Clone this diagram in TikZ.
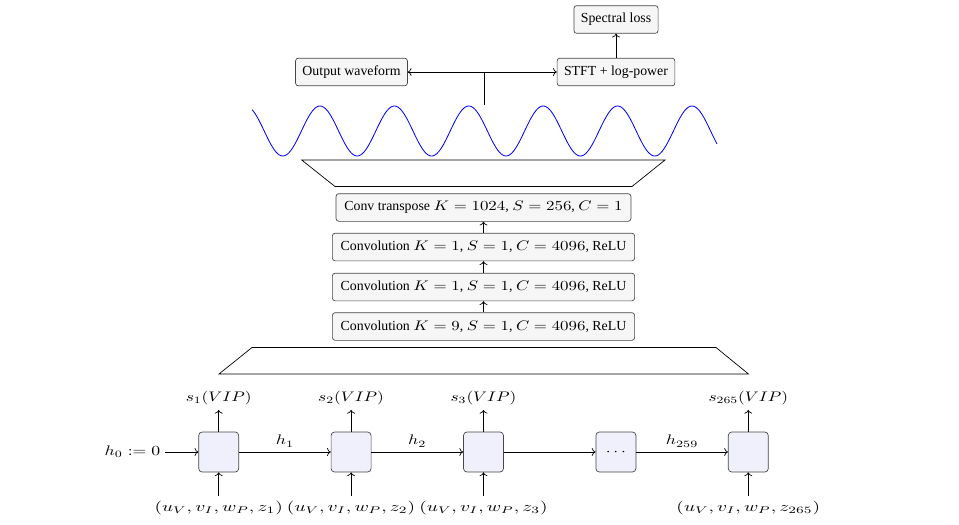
\documentclass[tikz,border=0pt]{standalone}
\usepackage[no-math]{fontspec}
\usepackage{graphicx}
\setmainfont{Liberation Serif}
\usetikzlibrary{arrows.meta}
\definecolor{boxgray}{RGB}{246,246,246}
\definecolor{cellblue}{RGB}{240,240,252}
\definecolor{edgegray}{RGB}{70,70,70}
\newcommand{\wmath}[2][1.22]{\scalebox{#1}[1]{$#2$}}
\tikzset{
  topbox/.style={draw=edgegray, fill=boxgray, rounded corners=2pt, minimum height=20pt, inner xsep=5pt},
  convbox/.style={draw=edgegray, fill=boxgray, rounded corners=2pt, minimum height=20pt, inner xsep=6pt},
  cell/.style={draw=edgegray, fill=cellblue, rounded corners=2.5pt, minimum width=28.9pt, minimum height=28.9pt, inner sep=0pt},
  lbl/.style={inner sep=3.33pt},
  arr/.style={->},
  every path/.style={line width=0.5pt},
}
\begin{document}
\begin{tikzpicture}[x=0.7225pt,y=-0.7225pt]
\useasboundingbox (0,0) rectangle (959,524);
% top
\node[topbox] (spec) at (616,19.5) {Spectral loss};
\node[topbox] (stft) at (616,72) {STFT + log-power};
\node[topbox] (out) at (351.5,72) {Output waveform};
\coordinate (junc) at (484,72);
\coordinate (wtop) at (484,105);
\draw[<->] (out.east) -- (stft.west);
\draw (junc) -- (wtop);
\draw[arr] (stft) -- (spec);
% waveform
\draw[blue, line width=0.6pt] plot[domain=252:717, samples=300, smooth] (\x, {131 - 25*cos((\x-320)/74.4*360)});
% upper trapezoid
\draw (301.7,160) -- (665,160) -- (632,186.5) -- (335,186.5) -- cycle;
% conv stack
\node[convbox] (ct) at (483.5,207.5) {Conv transpose \wmath{K=1024}, \wmath{S=256}, \wmath{C=1}};
\node[convbox] (c1) at (483.5,247) {Convolution \wmath{K=1}, \wmath{S=1}, \wmath{C=4096}, ReLU};
\node[convbox] (c2) at (483.5,287) {Convolution \wmath{K=1}, \wmath{S=1}, \wmath{C=4096}, ReLU};
\node[convbox] (c3) at (483.5,326.5) {Convolution \wmath{K=9}, \wmath{S=1}, \wmath{C=4096}, ReLU};
\draw[arr] (c3) -- (c2);
\draw[arr] (c2) -- (c1);
\draw[arr] (c1) -- (ct);
% lower trapezoid
\draw (252,347.5) -- (716,347.5) -- (748.5,374) -- (219,374) -- cycle;
% recurrent chain
\node[cell] (b1) at (218.7,452) {};
\node[cell] (b2) at (351.1,452) {};
\node[cell] (b3) at (483.5,452) {};
\node[cell] (b4) at (615.9,452) {\wmath[1.25]{\cdots}};
\node[cell] (b5) at (748.3,452) {};
\node[lbl] (h0) at (132.5,452) {\wmath[1.28]{h_0 := 0}};
\draw[arr] (h0) -- (b1);
\draw[arr] (b1) -- node[above, name=lh1] {\wmath[1.28]{h_1}} (b2);
\draw[arr] (b2) -- node[above, name=lh2] {\wmath[1.28]{h_2}} (b3);
\draw[arr] (b3) -- (b4);
\draw[arr] (b4) -- node[above, name=lh259] {\wmath[1.28]{h_{259}}} (b5);
\node[lbl] (s1) at (218.7,398) {\wmath[1.25]{s_1(VIP)}};
\node[lbl] (s2) at (351.1,398) {\wmath[1.25]{s_2(VIP)}};
\node[lbl] (s3) at (483.5,398) {\wmath[1.25]{s_3(VIP)}};
\node[lbl] (s5) at (748.3,398) {\wmath[1.25]{s_{265}(VIP)}};
\draw[arr] (b1) -- (s1);
\draw[arr] (b2) -- (s2);
\draw[arr] (b3) -- (s3);
\draw[arr] (b5) -- (s5);
\node[lbl] (i1) at (218.7,508) {\wmath[1.4]{(u_V, v_I, w_P, z_1)}};
\node[lbl] (i2) at (351.1,508) {\wmath[1.4]{(u_V, v_I, w_P, z_2)}};
\node[lbl] (i3) at (483.5,508) {\wmath[1.4]{(u_V, v_I, w_P, z_3)}};
\node[lbl] (i5) at (748.3,508) {\wmath[1.4]{(u_V, v_I, w_P, z_{265})}};
\draw[arr] (i1) -- (b1);
\draw[arr] (i2) -- (b2);
\draw[arr] (i3) -- (b3);
\draw[arr] (i5) -- (b5);
\end{tikzpicture}
\end{document}
